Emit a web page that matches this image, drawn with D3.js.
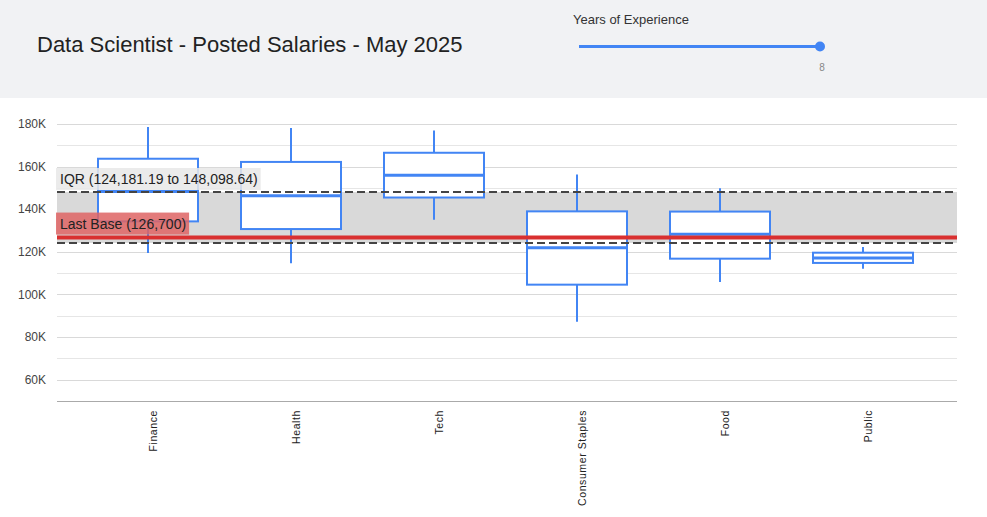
<!DOCTYPE html>
<html lang="en">
<head>
    <meta charset="UTF-8">
    <title>Data Scientist - Posted Salaries - May 2025</title>
    <style>
        body { margin: 0; background: #fff; font-family: Arial, "Liberation Sans", sans-serif; }
        .grid line { stroke: #d9d9d9; stroke-width: 1px; }
        .grid .minor { stroke: #e6e6e6; }
        .box rect { fill: #fff; stroke: #4285f4; stroke-width: 2px; }
        .box line { stroke: #4285f4; stroke-width: 2px; }
        .ytick { font-size: 12px; fill: #444; }
        .xlab { font-size: 10.5px; fill: #222; letter-spacing: 0.6px; }
    </style>
</head>
<body>
    <svg width="987" height="517"></svg>
    <script src="https://d3js.org/d3.v7.min.js"></script>
    <script>
        // data
        const categories = ["Finance", "Health", "Tech", "Consumer Staples", "Food", "Public"];
        const whiskerLow  = [119400, 114600, 135100, 87200, 105800, 112100];
        const q1          = [134300, 130700, 145500, 104600, 116800, 114800];
        const medians     = [148300, 146300, 156000, 121900, 128200, 117100];
        const q3          = [163700, 162200, 166500, 139000, 138900, 119600];
        const whiskerHigh = [178600, 178100, 177000, 156300, 149800, 122300];
        const iqrRange = [124181.19, 148098.64];
        const lastBase = 126700;
        const yTicks = [60000, 80000, 100000, 120000, 140000, 160000, 180000];
        const yMinorTicks = [70000, 90000, 110000, 130000, 150000, 170000];

        const svg = d3.select("svg"),
              width = +svg.attr("width");

        const plot = { left: 57, right: 957, top: 124, bottom: 401 };

        // header strip
        svg.append("rect")
            .attr("x", 0).attr("y", 0)
            .attr("width", width).attr("height", 98)
            .attr("fill", "#f1f2f4");

        svg.append("text")
            .attr("x", 37).attr("y", 52)
            .attr("font-size", 22)
            .attr("fill", "#222")
            .text("Data Scientist - Posted Salaries - May 2025");

        // slider control (static)
        const sx = d3.scaleLinear().domain([0, 8]).range([579, 820]);
        svg.append("text")
            .attr("x", 573).attr("y", 24)
            .attr("font-size", 13).attr("fill", "#333")
            .text("Years of Experience");
        svg.append("line")
            .attr("x1", sx(0)).attr("x2", sx(8))
            .attr("y1", 46.5).attr("y2", 46.5)
            .attr("stroke", "#4285f4").attr("stroke-width", 3);
        svg.append("circle")
            .attr("cx", sx(8)).attr("cy", 46.5).attr("r", 5)
            .attr("fill", "#4285f4");
        svg.append("text")
            .attr("x", sx(8) + 2).attr("y", 71)
            .attr("text-anchor", "middle")
            .attr("font-size", 10).attr("fill", "#888")
            .text("8");

        const y = d3.scaleLinear()
            .domain([50000, 180000])
            .range([plot.bottom, plot.top]);

        const x = d3.scalePoint()
            .domain(categories)
            .range([148, 863]);

        const boxW = 100;

        // gridlines
        const grid = svg.append("g").attr("class", "grid");
        grid.selectAll("line.minor")
            .data(yMinorTicks)
            .enter().append("line")
            .attr("class", "minor")
            .attr("x1", plot.left).attr("x2", plot.right)
            .attr("y1", d => Math.round(y(d)) + 0.5)
            .attr("y2", d => Math.round(y(d)) + 0.5);
        grid.selectAll("line.major")
            .data(yTicks)
            .enter().append("line")
            .attr("class", "major")
            .attr("x1", plot.left).attr("x2", plot.right)
            .attr("y1", d => Math.round(y(d)) + 0.5)
            .attr("y2", d => Math.round(y(d)) + 0.5);

        // y axis labels
        svg.append("g")
            .selectAll("text")
            .data(yTicks)
            .enter().append("text")
            .attr("class", "ytick")
            .attr("x", 46)
            .attr("y", d => y(d))
            .attr("dy", "0.35em")
            .attr("text-anchor", "end")
            .text(d => d3.format("d")(d / 1000) + "K");

        // IQR band
        svg.append("rect")
            .attr("x", plot.left)
            .attr("width", plot.right - plot.left)
            .attr("y", y(iqrRange[1]))
            .attr("height", y(iqrRange[0]) - y(iqrRange[1]))
            .attr("fill", "#d9d9d9");

        // baseline
        svg.append("line")
            .attr("x1", plot.left).attr("x2", plot.right)
            .attr("y1", plot.bottom + 0.5).attr("y2", plot.bottom + 0.5)
            .attr("stroke", "#aaa").attr("stroke-width", 1);

        // boxes
        const boxes = svg.append("g")
            .selectAll("g")
            .data(categories)
            .enter().append("g")
            .attr("class", "box");

        boxes.append("line")
            .attr("x1", d => x(d)).attr("x2", d => x(d))
            .attr("y1", (d, i) => y(whiskerHigh[i]))
            .attr("y2", (d, i) => y(whiskerLow[i]));

        boxes.append("rect")
            .attr("x", d => x(d) - boxW / 2)
            .attr("width", boxW)
            .attr("y", (d, i) => y(q3[i]))
            .attr("height", (d, i) => y(q1[i]) - y(q3[i]));

        boxes.append("line")
            .attr("x1", d => x(d) - boxW / 2).attr("x2", d => x(d) + boxW / 2)
            .attr("y1", (d, i) => y(medians[i]))
            .attr("y2", (d, i) => y(medians[i]))
            .style("stroke-width", "3px");

        // x labels
        svg.append("g")
            .selectAll("text")
            .data(categories)
            .enter().append("text")
            .attr("class", "xlab")
            .attr("transform", d => "translate(" + (x(d) + 5) + "," + (plot.bottom + 9) + ") rotate(-90)")
            .attr("dy", "0.35em")
            .attr("text-anchor", "end")
            .text(d => d);

        // IQR dashed bounds
        svg.append("g")
            .selectAll("line")
            .data(iqrRange)
            .enter().append("line")
            .attr("x1", plot.left).attr("x2", plot.right)
            .attr("y1", d => y(d)).attr("y2", d => y(d))
            .attr("stroke", "#444")
            .attr("stroke-width", 2)
            .attr("stroke-dasharray", "8,4");

        // last base line
        svg.append("line")
            .attr("x1", plot.left).attr("x2", plot.right)
            .attr("y1", y(lastBase)).attr("y2", y(lastBase))
            .attr("stroke", "#d93030")
            .attr("stroke-width", 4);

        // annotation labels
        function tag(txt, yBottom, bg) {
            const g = svg.append("g");
            const t = g.append("text")
                .attr("x", 60)
                .attr("y", yBottom - 6)
                .attr("font-size", 14)
                .attr("fill", "#222")
                .text(txt);
            const w = t.node().getComputedTextLength();
            g.insert("rect", "text")
                .attr("x", plot.left - 1)
                .attr("y", yBottom - 22)
                .attr("width", w + 7)
                .attr("height", 22)
                .attr("fill", bg);
        }
        tag("IQR (" + d3.format(",.2f")(iqrRange[0]) + " to " + d3.format(",.2f")(iqrRange[1]) + ")",
            y(iqrRange[1]) - 2, "rgba(232,232,232,0.85)");
        tag("Last Base (" + d3.format(",")(lastBase) + ")",
            y(lastBase) - 3, "rgba(222,100,100,0.85)");
    </script>
</body>
</html>
